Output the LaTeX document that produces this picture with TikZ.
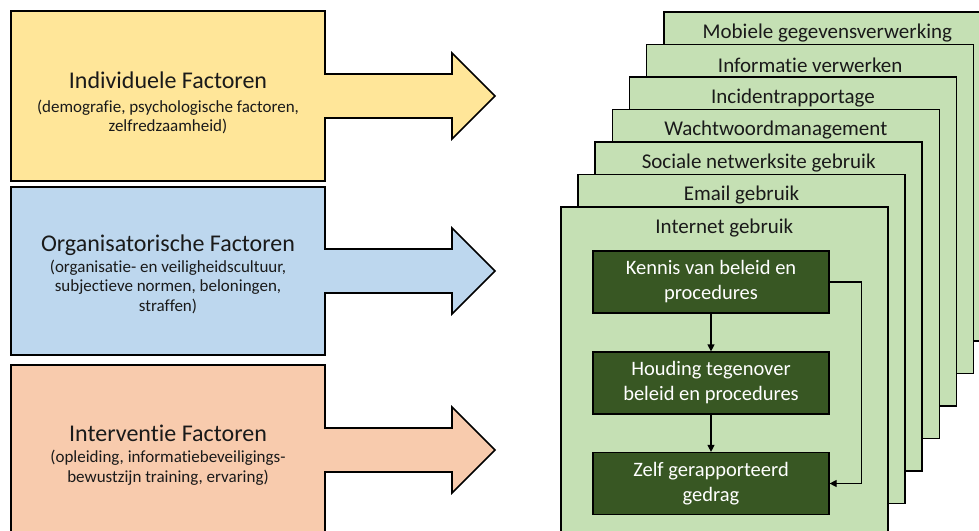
\documentclass[tikz,border=0pt]{standalone}
\usepackage{fontspec}
\setmainfont{Carlito}[Ligatures=NoCommon]
\usetikzlibrary{arrows.meta}
\definecolor{fyellow}{HTML}{FFE699}
\definecolor{fblue}{HTML}{BDD7EE}
\definecolor{forange}{HTML}{F8CBAD}
\definecolor{flgreen}{HTML}{C5E0B4}
\definecolor{fdgreen}{HTML}{385723}
\definecolor{ftext}{HTML}{1A1A1A}
\tikzset{
  factorshape/.style={draw=black, line width=1.6pt, line join=miter},
  ftitle/.style={font=\fontsize{24}{28}\selectfont, text=ftext, inner sep=0pt},
  fsub/.style={font=\fontsize{17}{19.5}\selectfont, text=ftext, align=center, inner sep=0pt},
  layerbox/.style={draw=black, fill=flgreen, line width=1.6pt, anchor=north west,
    minimum width=327pt, minimum height=329pt, inner sep=0pt},
  layerlabel/.style={font=\fontsize{21}{24}\selectfont, text=ftext, inner sep=0pt},
  stepbox/.style={draw=black, fill=fdgreen, line width=1.2pt, text=white,
    minimum width=236pt, minimum height=62pt, inner sep=0pt, align=center,
    font=\fontsize{20.5}{25}\selectfont},
  flow/.style={draw=black, line width=1.2pt, -{Triangle[length=7pt,width=7pt]}}
}
\begin{document}
\begin{tikzpicture}[x=1pt,y=-1pt]
\clip (0,0) rectangle (979,530);
\fill[white] (0,0) rectangle (979,530);

% factor shapes (box + arrow as one outline)
\newcommand{\factorshape}[3]{% top, bottom, colour
  \pgfmathsetmacro{\fc}{(#1+#2)/2}
  \draw[factorshape, fill=#3] (11,#1) -- (325,#1) -- (325,\fc-22) -- (452,\fc-22) -- (452,\fc-43)
    -- (495,\fc) -- (452,\fc+43) -- (452,\fc+22) -- (325,\fc+22) -- (325,#2) -- (11,#2) -- cycle;
}
\factorshape{11}{181}{fyellow}
\factorshape{187}{355}{fblue}
\factorshape{365}{535}{forange}

\node[ftitle] (t1) at (168,80) {Individuele Factoren};
\node[fsub, anchor=north] (s1) at (168,99.5) {(demografie, psychologische factoren,\\zelfredzaamheid)};
\node[ftitle] (t2) at (168,245) {Organisatorische Factoren};
\node[fsub, anchor=north] (s2) at (168,259.5) {(organisatie- en veiligheidscultuur,\\subjectieve normen, beloningen,\\straffen)};
\node[ftitle] (t3) at (168,433) {Interventie Factoren};
\node[fsub, anchor=north] (s3) at (168,450) {(opleiding, informatiebeveiligings-\\bewustzijn training, ervaring)};

% stacked layers, back to front
\foreach \i/\lab in {6/Mobiele gegevensverwerking, 5/Informatie verwerken, 4/Incidentrapportage,
  3/Wachtwoordmanagement, 2/Sociale netwerksite gebruik, 1/Email gebruik, 0/Internet gebruik}{
  \node[layerbox] (g\i) at ({560+17.17*\i},{206-32.5*\i}) {};
  \node[layerlabel] (gl\i) at ([yshift=-22pt]g\i.north) {\lab};
}

% inner flow
\node[stepbox] (k) at (711,282) {Kennis van beleid en\\procedures};
\node[stepbox] (h) at (711,383) {Houding tegenover\\beleid en procedures};
\node[stepbox] (z) at (711,483.5) {Zelf gerapporteerd\\gedrag};
\draw[flow] (k) -- (h);
\draw[flow] (h) -- (z);
\draw[flow] (k.east) -- ++(32,0) |- (z.east);
\end{tikzpicture}
\end{document}
